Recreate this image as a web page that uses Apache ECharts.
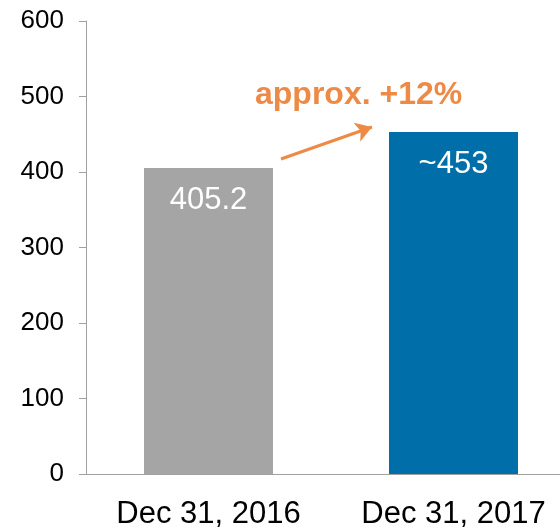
<!DOCTYPE html>
<html>
<head>
<meta charset="utf-8">
<script src="https://cdn.jsdelivr.net/npm/echarts@6/dist/echarts.min.js"></script>
<style>
  html, body { margin: 0; padding: 0; background: #fff; }
  #chart { width: 560px; height: 527px; }
</style>
</head>
<body>
<div id="chart"></div>
<script>
var categories = ['Dec 31, 2016', 'Dec 31, 2017'];
var values = [405.2, 453];
var valueLabels = ['405.2', '~453'];
var barColors = ['#a5a5a5', '#006ea9'];
var yTicks = [0, 100, 200, 300, 400, 500, 600];
var growthText = 'approx. +12%';

var dom = document.getElementById("chart");
var myChart = echarts.init(dom);

var orange = '#ed8a45';
var font = '"Liberation Sans", Arial, sans-serif';

var option = {
  animation: false,
  grid: {
    left: 86,
    top: 21,
    bottom: 53,
    right: -16,
    containLabel: false,
    outerBoundsMode: 'none'
  },
  xAxis: {
    type: 'category',
    data: categories,
    axisLine: { lineStyle: { color: '#a0a0a0', width: 1 } },
    axisTick: { show: false },
    axisLabel: {
      color: '#000',
      fontSize: 31,
      fontFamily: font,
      margin: 25
    }
  },
  yAxis: {
    type: 'value',
    min: yTicks[0],
    max: yTicks[yTicks.length - 1],
    interval: 100,
    splitLine: { show: false },
    axisLine: { show: true, lineStyle: { color: '#a0a0a0', width: 1 } },
    axisTick: { show: true, length: 7, lineStyle: { color: '#a0a0a0' } },
    axisLabel: {
      color: '#000',
      fontSize: 26,
      fontFamily: font,
      margin: 22
    }
  },
  series: [
    {
      type: 'bar',
      barWidth: 129,
      data: values.map(function (v, i) {
        return { value: v, itemStyle: { color: barColors[i] } };
      }),
      label: {
        show: true,
        position: 'insideTop',
        distance: 17,
        color: '#fff',
        fontSize: 31,
        fontFamily: font,
        formatter: function (p) { return valueLabels[p.dataIndex]; }
      },
      markLine: {
        silent: true,
        symbol: ['none', 'arrow'],
        symbolSize: [15, 16],
        label: { show: false },
        lineStyle: { color: orange, width: 3, type: 'solid' },
        data: [[{ x: 281, y: 159 }, { x: 372, y: 127 }]]
      }
    }
  ],
  graphic: [
    {
      type: 'text',
      left: 255,
      top: 79,
      style: {
        text: growthText,
        fill: orange,
        font: 'bold 32px ' + font
      }
    }
  ]
};

myChart.setOption(option, true);
</script>
</body>
</html>
